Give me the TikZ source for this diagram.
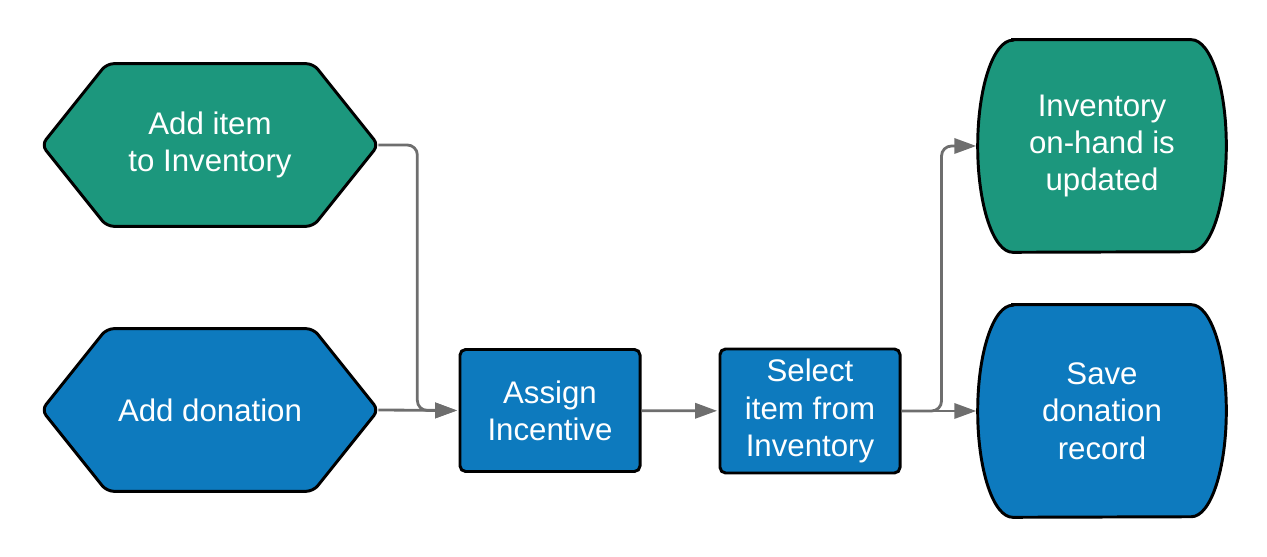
\documentclass[tikz,border=0pt]{standalone}
\usepackage{fontspec}
\setmainfont{Liberation Sans}
\usepackage{xcolor}
\usetikzlibrary{arrows.meta,positioning,calc,backgrounds}
\definecolor{gn}{RGB}{28,151,125}
\definecolor{bu}{RGB}{13,122,190}
\definecolor{gy}{RGB}{110,110,110}
\definecolor{ol}{RGB}{0,0,0}

\tikzset{
  txt/.style={align=center,text=white,font=\fontsize{22.2}{26.5}\selectfont,inner sep=0pt},
  hexbox/.style={txt,minimum width=8.4cm,minimum height=4.05cm},
  endbox/.style={txt,minimum width=6.2cm,minimum height=5.3cm},
  stepbox/.style={txt,draw=ol,line width=2.1pt,rounded corners=4pt,minimum width=4.5cm},
  outline/.style={draw=ol,line width=2.1pt},
  link/.style={draw=gy,line width=2pt,rounded corners=0.25cm,-{Triangle[length=0.55cm,width=0.38cm]},shorten >=1pt}
}

\begin{document}
\begin{tikzpicture}[x=0.025cm,y=0.025cm]
  \useasboundingbox (0,0) rectangle (1267,557);

  % start nodes (hexagons)
  \node[hexbox] (addItem) at (210,412) {Add item\\to Inventory};
  \node[hexbox] (addDon) at (210,147) {Add donation};

  % process steps
  \node[stepbox,fill=bu,minimum height=3.05cm] (assign) at (550,146.5) {Assign\\Incentive};
  \node[stepbox,fill=bu,minimum height=3.1cm] (select) at (810,146) {Select\\item from\\Inventory};

  % end nodes
  \node[endbox] (updated) at (1102,411) {Inventory\\on-hand is\\updated};
  \node[endbox] (saveRec) at (1102,146) {Save\\donation\\record};

  % shapes behind the texts
  \begin{scope}[on background layer]
    \foreach \n/\c in {addItem/gn,addDon/bu}
      \draw[outline,fill=\c,rounded corners=5pt] (\n.west) -- ([xshift=1.625cm]\n.north west)
        -- ([xshift=-1.625cm]\n.north east) -- (\n.east) -- ([xshift=-1.625cm]\n.south east)
        -- ([xshift=1.625cm]\n.south west) -- cycle;
    \foreach \n/\c in {updated/gn,saveRec/bu}
      \draw[outline,fill=\c] ([xshift=0.875cm]\n.north west) -- ([xshift=-0.875cm]\n.north east)
        arc[start angle=90,end angle=0,x radius=0.875cm,y radius=2.65cm]
        arc[start angle=0,end angle=-90,x radius=0.875cm,y radius=2.65cm]
        -- ([xshift=0.875cm]\n.south west)
        arc[start angle=270,end angle=180,x radius=0.875cm,y radius=2.65cm]
        arc[start angle=180,end angle=90,x radius=0.875cm,y radius=2.65cm] -- cycle;
  \end{scope}

  % connectors
  \draw[link] (addItem.east) -- ++(0.975cm,0) |- (assign.west);
  \draw[link] (addDon.east) -- (assign.west);
  \draw[link] (assign) -- (select);
  \draw[link] (select.east) -- (saveRec.west);
  \draw[link] (select.east) -- ++(1cm,0) |- (updated.west);
\end{tikzpicture}
\end{document}
